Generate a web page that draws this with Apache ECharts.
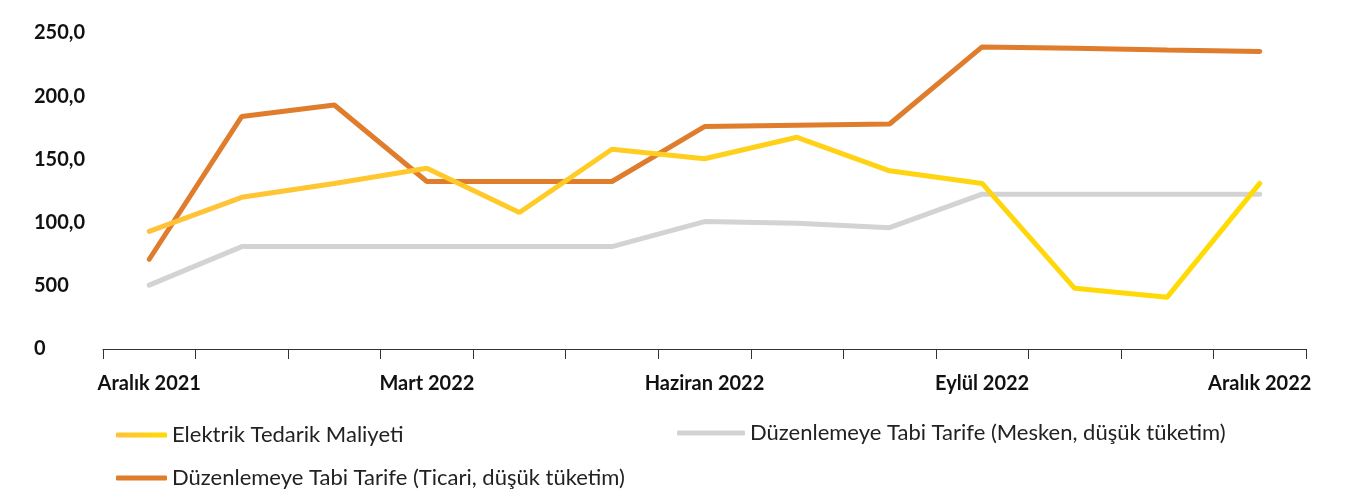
<!DOCTYPE html>
<html>
<head>
<meta charset="utf-8">
<script src="https://cdn.jsdelivr.net/npm/echarts@6/dist/echarts.min.js"></script>
<style>
  html, body { margin: 0; padding: 0; background: #fff; }
  #main { width: 1355px; height: 492px; }
</style>
</head>
<body>
<div id="main"></div>
<script>
// aylar
var months = ['Aralık 2021', 'Ocak 2022', 'Şubat 2022', 'Mart 2022', 'Nisan 2022', 'Mayıs 2022',
  'Haziran 2022', 'Temmuz 2022', 'Ağustos 2022', 'Eylül 2022', 'Ekim 2022', 'Kasım 2022', 'Aralık 2022'];
// seriler
var tedarik = [93, 120, 131, 143, 108, 158, 150.5, 167.5, 141, 131, 48, 41, 131];
var ticari = [71, 184, 193, 132.5, 132.5, 132.5, 176, 177, 178, 239, 238, 236.5, 235.3];
var mesken = [50.5, 81, 81, 81, 81, 81, 100.8, 99.5, 96, 122.5, 122.5, 122.5, 122.5];
// y ekseni etiketleri
var yLabels = ['0', '500', '100,0', '150,0', '200,0', '250,0'];

var names = ['Elektrik Tedarik Maliyeti', 'Düzenlemeye Tabi Tarife (Ticari, düşük tüketim)',
  'Düzenlemeye Tabi Tarife (Mesken, düşük tüketim)'];

var yellow = new echarts.graphic.LinearGradient(0, 0, 1, 0, [
  { offset: 0, color: '#FFC23A' },
  { offset: 1, color: '#FFDC00' }
]);

var myChart = echarts.init(document.getElementById('main'));
var legendText = { color: '#222', fontSize: 22, fontFamily: 'Lato' };
var option = {
  animation: false,
  legend: [
    { data: [names[0]], left: 111, top: 419, icon: 'roundRect', itemWidth: 51, itemHeight: 5, itemGap: 7, textStyle: legendText, selectedMode: false },
    { data: [names[1]], left: 111, top: 462, icon: 'roundRect', itemWidth: 51, itemHeight: 5, itemGap: 7, textStyle: legendText, selectedMode: false },
    { data: [names[2]], left: 672, top: 417, icon: 'roundRect', itemWidth: 68, itemHeight: 5, itemGap: 7, textStyle: legendText, selectedMode: false }
  ],
  grid: { left: 103, right: 49, top: 33, bottom: 143 },
  xAxis: {
    type: 'category',
    data: months,
    boundaryGap: true,
    axisLine: { lineStyle: { color: '#333', width: 1.2 } },
    axisTick: { show: true, interval: 0, length: 10, lineStyle: { color: '#333' } },
    axisLabel: {
      interval: 2, margin: 25, color: '#111', fontSize: 20, fontWeight: 'bold', fontFamily: 'Lato'
    }
  },
  yAxis: {
    type: 'value',
    min: 0, max: 250, interval: 50,
    axisLine: { show: false },
    axisTick: { show: false },
    splitLine: { show: false },
    axisLabel: {
      align: 'left', margin: 69, color: '#111', fontSize: 20, fontWeight: 'bold', fontFamily: 'Lato',
      formatter: function (v) { return yLabels[Math.round(v / 50)]; }
    }
  },
  series: [
    { name: names[0], type: 'line', data: tedarik, symbol: 'none', color: yellow,
      lineStyle: { width: 5, color: yellow, cap: 'round' }, z: 4 },
    { name: names[1], type: 'line', data: ticari, symbol: 'none', color: '#E07D2C',
      lineStyle: { width: 5, color: '#E07D2C', cap: 'round' }, z: 3 },
    { name: names[2], type: 'line', data: mesken, symbol: 'none', color: '#D3D3D3',
      lineStyle: { width: 5, color: '#D3D3D3', cap: 'round' }, z: 2 }
  ]
};
myChart.setOption(option);
</script>
</body>
</html>
